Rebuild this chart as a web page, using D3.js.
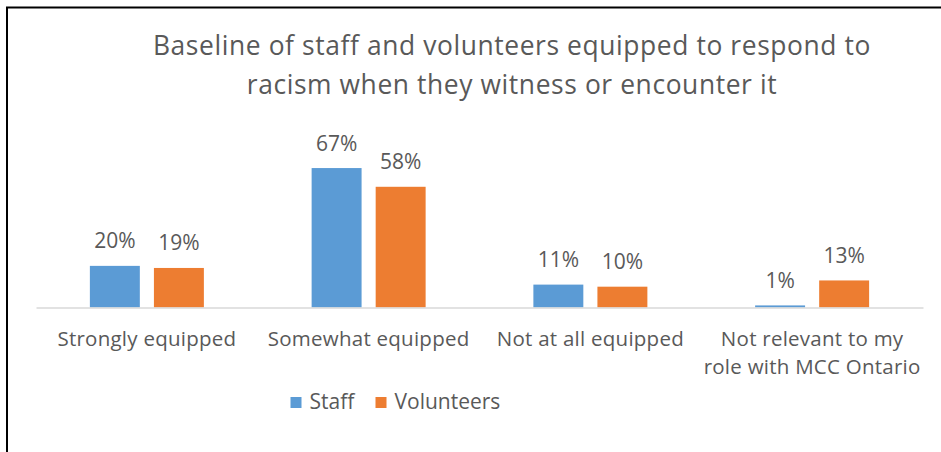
<!DOCTYPE html>
<html>
<head>
<meta charset="utf-8">
<script src="https://cdnjs.cloudflare.com/ajax/libs/d3/7.8.5/d3.min.js"></script>
<style>
  body { margin: 0; background: #ffffff; }
  svg { display: block; }
</style>
</head>
<body>
<div id="chart"></div>
<script>
var categories = ['Strongly equipped', 'Somewhat equipped', 'Not at all equipped', 'Not relevant to my role with MCC Ontario'];
var categoryLines = [['Strongly equipped'], ['Somewhat equipped'], ['Not at all equipped'], ['Not relevant to my', 'role with MCC Ontario']];
var seriesNames = ['Staff', 'Volunteers'];
var staffValues = [0.20, 0.67, 0.11, 0.01];
var volunteerValues = [0.19, 0.58, 0.10, 0.13];
var titleLines = ['Baseline of staff and volunteers equipped to respond to', 'racism when they witness or encounter it'];

var colors = { 'Staff': '#5B9BD5', 'Volunteers': '#ED7D31' };
var textColor = '#595959';
var font = '"Open Sans", Lato, sans-serif';

function drawChart() {
  var width = 941,
    height = 452;

  var svg = d3.select('#chart').append('svg')
    .attr('width', width)
    .attr('height', height)
    .style('background', '#ffffff');

  // frame of the pasted chart, cut off at right and bottom
  svg.append('rect')
    .attr('x', 7)
    .attr('y', 7.5)
    .attr('width', 1000)
    .attr('height', 1000)
    .style('fill', 'none')
    .style('stroke', '#000000')
    .style('stroke-width', 2);

  var xScale = d3.scaleBand()
    .domain(categories)
    .range([36, 923]);

  var innerScale = d3.scaleBand()
    .domain(seriesNames)
    .range([-57, 57])
    .paddingInner(0.22);

  var yScale = d3.scaleLinear()
    .domain([0, 0.8])
    .range([307.5, 141]);

  var rows = categories.map(function(c, i) {
    return [
      { cat: c, series: 'Staff', value: staffValues[i] },
      { cat: c, series: 'Volunteers', value: volunteerValues[i] }
    ];
  });

  var groups = svg.selectAll('g.group').data(rows)
    .enter().append('g')
    .attr('class', 'group')
    .attr('transform', function(d) {
      return 'translate(' + (xScale(d[0].cat) + xScale.bandwidth() / 2) + ',0)';
    });

  groups.selectAll('rect').data(function(d) { return d; })
    .enter().append('rect')
    .attr('x', function(d) { return innerScale(d.series); })
    .attr('y', function(d) { return yScale(d.value); })
    .attr('width', innerScale.bandwidth())
    .attr('height', function(d) { return yScale(0) - yScale(d.value); })
    .style('fill', function(d) { return colors[d.series]; });

  groups.selectAll('text').data(function(d) { return d; })
    .enter().append('text')
    .attr('x', function(d) { return innerScale(d.series) + innerScale.bandwidth() / 2; })
    .attr('y', function(d) { return yScale(d.value) - 17.5; })
    .attr('text-anchor', 'middle')
    .style('font-family', font)
    .style('font-size', '21px')
    .style('fill', textColor)
    .text(function(d) { return d3.format('.0%')(d.value); });

  // category axis
  var xAxis = d3.axisBottom(xScale).tickSize(0).tickFormat('');
  var axisG = svg.append('g').attr('transform', 'translate(0,' + yScale(0) + ')');
  xAxis(axisG);
  axisG.select('path')
    .style('stroke', '#D9D9D9')
    .style('stroke-width', 1.5);

  categories.forEach(function(c, i) {
    categoryLines[i].forEach(function(line, j) {
      svg.append('text')
        .attr('x', xScale(c) + xScale.bandwidth() / 2)
        .attr('y', 346 + j * 28)
        .attr('text-anchor', 'middle')
        .style('font-family', font)
        .style('font-size', '20.5px')
        .style('letter-spacing', '0.25px')
        .style('fill', textColor)
        .text(line);
    });
  });

  // title
  titleLines.forEach(function(line, j) {
    svg.append('text')
      .attr('x', 512)
      .attr('y', 55 + j * 39)
      .attr('text-anchor', 'middle')
      .style('font-family', font)
      .style('font-size', '26.4px')
      .style('letter-spacing', '0.6px')
      .style('fill', textColor)
      .text(line);
  });

  // legend
  var legendX = [290.5, 375.5];
  seriesNames.forEach(function(s, i) {
    svg.append('rect')
      .attr('x', legendX[i])
      .attr('y', 397)
      .attr('width', 11)
      .attr('height', 11)
      .style('fill', colors[s]);
    svg.append('text')
      .attr('x', legendX[i] + 19)
      .attr('y', 409)
      .style('font-family', font)
      .style('font-size', '21px')
      .style('fill', textColor)
      .text(s);
  });
}

drawChart();
</script>
</body>
</html>
